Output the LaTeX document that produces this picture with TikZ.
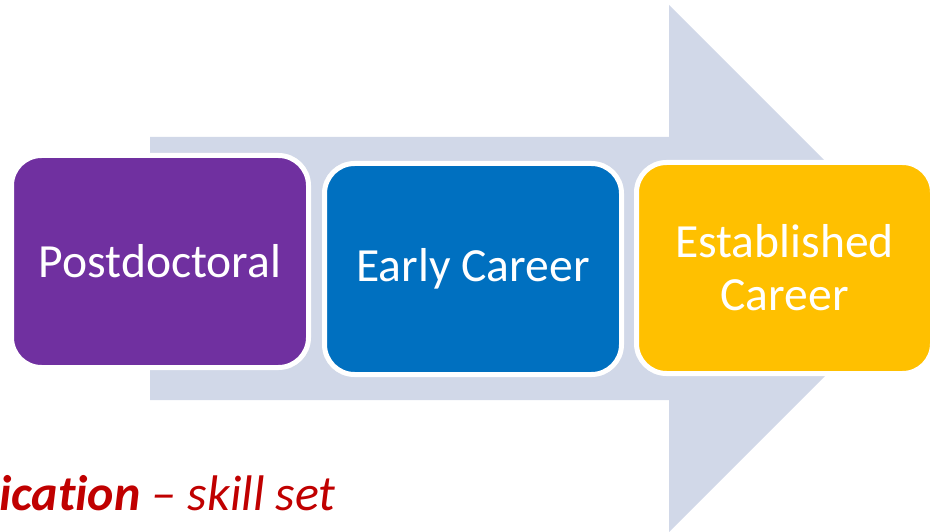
\documentclass[tikz,border=0pt]{standalone}
\usepackage{fontspec}
\setmainfont[Ligatures=NoCommon]{Carlito}
\definecolor{arrowc}{HTML}{D1D8E8}
\definecolor{purp}{HTML}{7030A0}
\definecolor{blu}{HTML}{0070C0}
\definecolor{yel}{HTML}{FFC000}
\definecolor{redt}{HTML}{C00000}
\tikzset{
  stage/.style={rounded corners=30pt, draw=white, line width=5pt, text=white,
    font=\fontsize{47.6}{53}\selectfont, align=center, inner sep=0pt}
}
\begin{document}
\begin{tikzpicture}[x=1pt,y=-1pt]
\useasboundingbox (0,0) rectangle (932,532);
\fill[arrowc] (150,137) -- (669,137) -- (669,5) -- (932.5,268.5) -- (669,532) -- (669,400) -- (150,400) -- cycle;
\node[stage, fill=purp, minimum width=297pt, minimum height=212pt] (pd) at (160,261.5) {Postdoctoral};
\node[stage, fill=blu, minimum width=297pt, minimum height=211pt] (ec) at (473,269) {Early Career};
\node[stage, fill=yel, minimum width=296pt, minimum height=211pt] (es) at (784.5,268) {Established\\Career};
\node[anchor=base west, inner sep=0pt, text=redt, font=\fontsize{50}{58}\selectfont\itshape] (sk) at (-1,510) {\textbf{ication} – skill set};
\end{tikzpicture}
\end{document}
